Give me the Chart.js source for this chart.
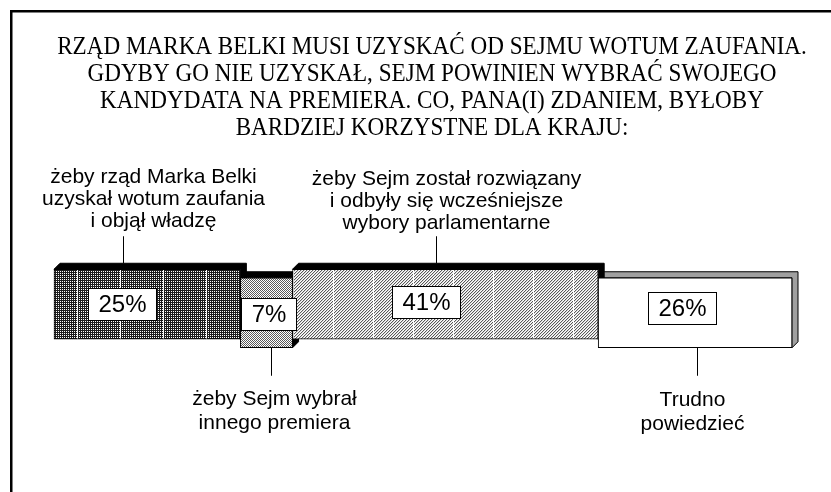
<!DOCTYPE html>
<html>
<head>
<meta charset="utf-8">
<script src="https://cdn.jsdelivr.net/npm/chart.js@4/dist/chart.umd.min.js"></script>
<style>
  html, body { margin: 0; padding: 0; background: #fff; }
  canvas { display: block; }
</style>
</head>
<body>
<canvas id="chart" width="831" height="492"></canvas>
<script>
// ===== DATA =====
const TITLE_LINES = [
    'RZĄD MARKA BELKI MUSI UZYSKAĆ OD SEJMU WOTUM ZAUFANIA.',
    'GDYBY GO NIE UZYSKAŁ, SEJM POWINIEN WYBRAĆ SWOJEGO',
    'KANDYDATA NA PREMIERA. CO, PANA(I) ZDANIEM, BYŁOBY',
    'BARDZIEJ KORZYSTNE DLA KRAJU:'
];
const CATEGORIES = [
    ['żeby rząd Marka Belki', 'uzyskał wotum zaufania', 'i objął władzę'],
    ['żeby Sejm wybrał', 'innego premiera'],
    ['żeby Sejm został rozwiązany', 'i odbyły się wcześniejsze', 'wybory parlamentarne'],
    ['Trudno', 'powiedzieć']
];
const VALUES = [25, 7, 41, 26];
const VALUE_LABELS = VALUES.map(v => v + '%');
const ROW = [1, 0, 1, 0];                      // 1 = upper row, 0 = lower row
const LABEL_SIDE = ['top', 'bottom', 'top', 'bottom'];

// ===== STYLE =====
const DEPTH = 6;
const DEPTH_COLORS = ['#000', '#000', '#000', '#a0a0a0'];
const BOX_FRAC = [0.366, 0.53, 0.437, 0.433];  // where the % box sits along the segment
const BOX_DY = [0, 1, -2, -5];
const LEADER_FRAC = [0.37, 0.58, 0.47, 0.51];
const TEXT_SHIFT = [30, 3, 10, -5];
const TEXT_DY = [0, 5, 2, 6];
const SANS = '"Liberation Sans", Arial, sans-serif';
const SERIF = '"Liberation Serif", "Times New Roman", serif';

const canvas = document.getElementById('chart');
const ctx = canvas.getContext('2d');

// build a pixel pattern tile, fn(x, y) returns a grey level 0..255
function makePattern(w, h, fn, shiftX) {
    const c = document.createElement('canvas');
    c.width = w;
    c.height = h;
    const g = c.getContext('2d');
    const img = g.createImageData(w, h);
    for (let y = 0; y < h; y++) {
        for (let x = 0; x < w; x++) {
            const v = fn(x, y);
            const k = (y * w + x) * 4;
            img.data[k] = img.data[k + 1] = img.data[k + 2] = v;
            img.data[k + 3] = 255;
        }
    }
    g.putImageData(img, 0, 0);
    const p = ctx.createPattern(c, 'repeat');
    if (shiftX) p.setTransform(new DOMMatrix([1, 0, 0, 1, shiftX, 0]));
    return p;
}

const FILLS = [
    // dense grid with a white seam
    makePattern(43, 2, (x, y) => (x === 42 ? 255 : (x % 2 === 0 || y % 2 === 0) ? 30 : 255), 35),
    // checker
    makePattern(2, 2, (x, y) => ((x + y) % 2 === 0 ? 90 : 255)),
    // fine diagonal hatch with a white seam
    makePattern(40, 3, (x, y) => {
        if (x === 39) return 255;
        const m = (x + y) % 3;
        return m === 0 ? 90 : m === 1 ? 215 : 255;
    }, 14),
    '#fff'
];

// floating bars built from cumulative values
const starts = VALUES.map((v, i) => VALUES.slice(0, i).reduce((a, b) => a + b, 0));
const TOTAL = VALUES.reduce((a, b) => a + b, 0);
const bars = VALUES.map((v, i) => ({ x: [starts[i], starts[i] + v], y: ROW[i] }));

function barBox(el) {
    const p = el.getProps(['x', 'y', 'base', 'height'], true);
    return {
        left: Math.min(p.x, p.base),
        right: Math.max(p.x, p.base),
        top: p.y - p.height / 2,
        bottom: p.y + p.height / 2,
        cy: p.y
    };
}

// frame + 3D faces behind the bars
const depthPlugin = {
    id: 'depth3d',
    beforeDraw(chart) {
        const c = chart.ctx;
        c.save();
        c.strokeStyle = '#000';
        c.lineWidth = 2.5;
        c.beginPath();
        c.moveTo(11.25, 492);
        c.lineTo(11.25, 11.25);
        c.lineTo(831, 11.25);
        c.stroke();
        c.restore();
    },
    beforeDatasetsDraw(chart) {
        const c = chart.ctx;
        const meta = chart.getDatasetMeta(0);
        c.save();
        c.lineWidth = 1;
        c.strokeStyle = '#000';
        for (let i = meta.data.length - 1; i >= 0; i--) {
            const b = barBox(meta.data[i]);
            c.fillStyle = DEPTH_COLORS[i];
            c.beginPath();
            c.moveTo(b.left, b.top);
            c.lineTo(b.left + DEPTH, b.top - DEPTH);
            c.lineTo(b.right + DEPTH, b.top - DEPTH);
            c.lineTo(b.right + DEPTH, b.bottom - DEPTH);
            c.lineTo(b.right, b.bottom);
            c.lineTo(b.right, b.top);
            c.closePath();
            c.fill();
            c.stroke();
        }
        c.restore();
    }
};

// % boxes, leader lines, category texts and title
const labelPlugin = {
    id: 'labels',
    afterDatasetsDraw(chart) {
        const c = chart.ctx;
        const meta = chart.getDatasetMeta(0);
        c.save();
        c.textAlign = 'center';
        c.textBaseline = 'middle';

        meta.data.forEach((el, i) => {
            const b = barBox(el);
            const w = b.right - b.left;

            // value box
            c.font = '24px ' + SANS;
            const tw = c.measureText(VALUE_LABELS[i]).width;
            const bw = Math.round(tw + 20), bh = 32;
            const bx = Math.round(b.left + BOX_FRAC[i] * w - bw / 2) + 0.5;
            const by = Math.round(b.cy + BOX_DY[i] - bh / 2) + 0.5;
            c.fillStyle = '#fff';
            c.fillRect(bx, by, bw, bh);
            c.strokeStyle = '#000';
            c.lineWidth = 1;
            c.strokeRect(bx, by, bw, bh);
            c.fillStyle = '#000';
            c.fillText(VALUE_LABELS[i], bx + bw / 2, by + bh / 2 + 1);

            // leader line
            const lx = Math.round(b.left + LEADER_FRAC[i] * w) + 0.5;
            c.beginPath();
            let textY;
            if (LABEL_SIDE[i] === 'top') {
                c.moveTo(lx, b.top - DEPTH);
                c.lineTo(lx, b.top - DEPTH - 27);
                textY = b.top - DEPTH - 27;
            } else {
                c.moveTo(lx, b.bottom);
                c.lineTo(lx, b.bottom + 28);
                textY = b.bottom + 28;
            }
            c.stroke();

            // category text
            c.font = '21px ' + SANS;
            const lines = CATEGORIES[i];
            const tx = lx + TEXT_SHIFT[i];
            lines.forEach((s, j) => {
                let y;
                if (LABEL_SIDE[i] === 'top') {
                    y = textY - 15 - (lines.length - 1 - j) * 22 + TEXT_DY[i];
                } else {
                    y = textY + 18 + j * 24 + TEXT_DY[i];
                }
                c.fillText(s, tx, y);
            });
        });

        // title, a narrow serif
        c.font = '26px ' + SERIF;
        TITLE_LINES.forEach((s, j) => {
            c.save();
            c.translate(432, 47 + j * 27);
            c.scale(0.89, 1);
            c.fillText(s, 0, 0);
            c.restore();
        });
        c.restore();
    }
};

new Chart(canvas, {
    type: 'bar',
    data: {
        datasets: [{
            data: bars,
            backgroundColor: FILLS,
            borderColor: '#000',
            borderWidth: 1,
            borderSkipped: false,
            barThickness: 70,
            clip: false
        }]
    },
    options: {
        indexAxis: 'y',
        responsive: false,
        animation: false,
        layout: { padding: { left: 54, right: 39, top: 300, bottom: 175 } },
        scales: {
            x: { type: 'linear', min: 0, max: TOTAL, display: false },
            y: { type: 'linear', min: 0, max: 1, display: false }
        },
        plugins: {
            legend: { display: false },
            tooltip: { enabled: false }
        }
    },
    plugins: [depthPlugin, labelPlugin]
});
</script>
</body>
</html>
